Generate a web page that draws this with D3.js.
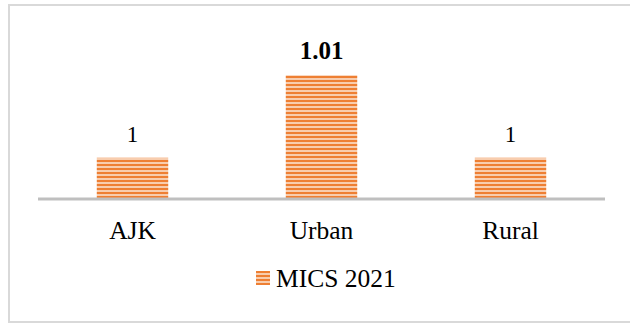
<!DOCTYPE html>
<html>
<head>
<meta charset="utf-8">
<script src="https://cdn.jsdelivr.net/npm/d3@7"></script>
<style>
  html, body { margin: 0; padding: 0; background: #fff; }
  svg { display: block; }
  text { font-family: "Liberation Serif", "Times New Roman", serif; fill: #000; }
</style>
</head>
<body>
<svg id="chart" width="630" height="326"></svg>
<script>
// Chart data
const categories = ["AJK", "Urban", "Rural"];
const values = [1, 1.01, 1];
const valueLabels = ["1", "1.01", "1"];
const boldLabel = [false, true, false];
const seriesName = "MICS 2021";
const yDomain = [0.995, 1.015];

const svg = d3.select("#chart");

// Striped fill for the bars
const defs = svg.append("defs");
const pat = defs.append("pattern")
  .attr("id", "stripes")
  .attr("patternUnits", "userSpaceOnUse")
  .attr("width", 8).attr("height", 4);
pat.append("rect").attr("width", 8).attr("height", 4).attr("fill", "#F8CDAE");
pat.append("rect").attr("width", 8).attr("height", 2).attr("fill", "#EE7F33");

// Chart frame
svg.append("rect")
  .attr("x", 9).attr("y", 5)
  .attr("width", 640).attr("height", 317)
  .attr("fill", "#fff")
  .attr("stroke", "#d9d9d9")
  .attr("stroke-width", 2);

const x = d3.scaleBand()
  .domain(categories)
  .range([38, 605])
  .paddingInner(0.622)
  .paddingOuter(0.311);

const y = d3.scaleLinear()
  .domain(yDomain)
  .range([199, 34]);

// Bars
svg.append("g").selectAll("rect")
  .data(values)
  .join("rect")
  .attr("x", (d, i) => x(categories[i]))
  .attr("width", x.bandwidth())
  .attr("y", d => y(d))
  .attr("height", d => y(yDomain[0]) - y(d))
  .attr("fill", "url(#stripes)");

// Category axis
const axis = svg.append("g")
  .attr("transform", `translate(0,${y(yDomain[0])})`)
  .call(d3.axisBottom(x).tickSize(0).tickPadding(22));
axis.select(".domain")
  .attr("stroke", "#bfbfbf")
  .attr("stroke-width", 3)
  .attr("d", "M38,0H605");
axis.selectAll("text")
  .style("font-family", '"Liberation Serif", "Times New Roman", serif')
  .style("font-size", "25.5px")
  .attr("fill", "#000");

// Value labels
svg.append("g").selectAll("text")
  .data(values)
  .join("text")
  .attr("x", (d, i) => x(categories[i]) + x.bandwidth() / 2)
  .attr("y", d => y(d) - 16)
  .attr("text-anchor", "middle")
  .style("font-size", (d, i) => boldLabel[i] ? "25px" : "23px")
  .style("font-weight", (d, i) => boldLabel[i] ? "bold" : "normal")
  .text((d, i) => valueLabels[i]);

// Legend
const legend = svg.append("g").attr("transform", "translate(256,271)");
legend.append("rect")
  .attr("width", 14).attr("height", 14)
  .attr("fill", "url(#stripes)");
legend.append("text")
  .attr("x", 20).attr("y", 15.5)
  .style("font-size", "25.5px")
  .text(seriesName);
</script>
</body>
</html>
